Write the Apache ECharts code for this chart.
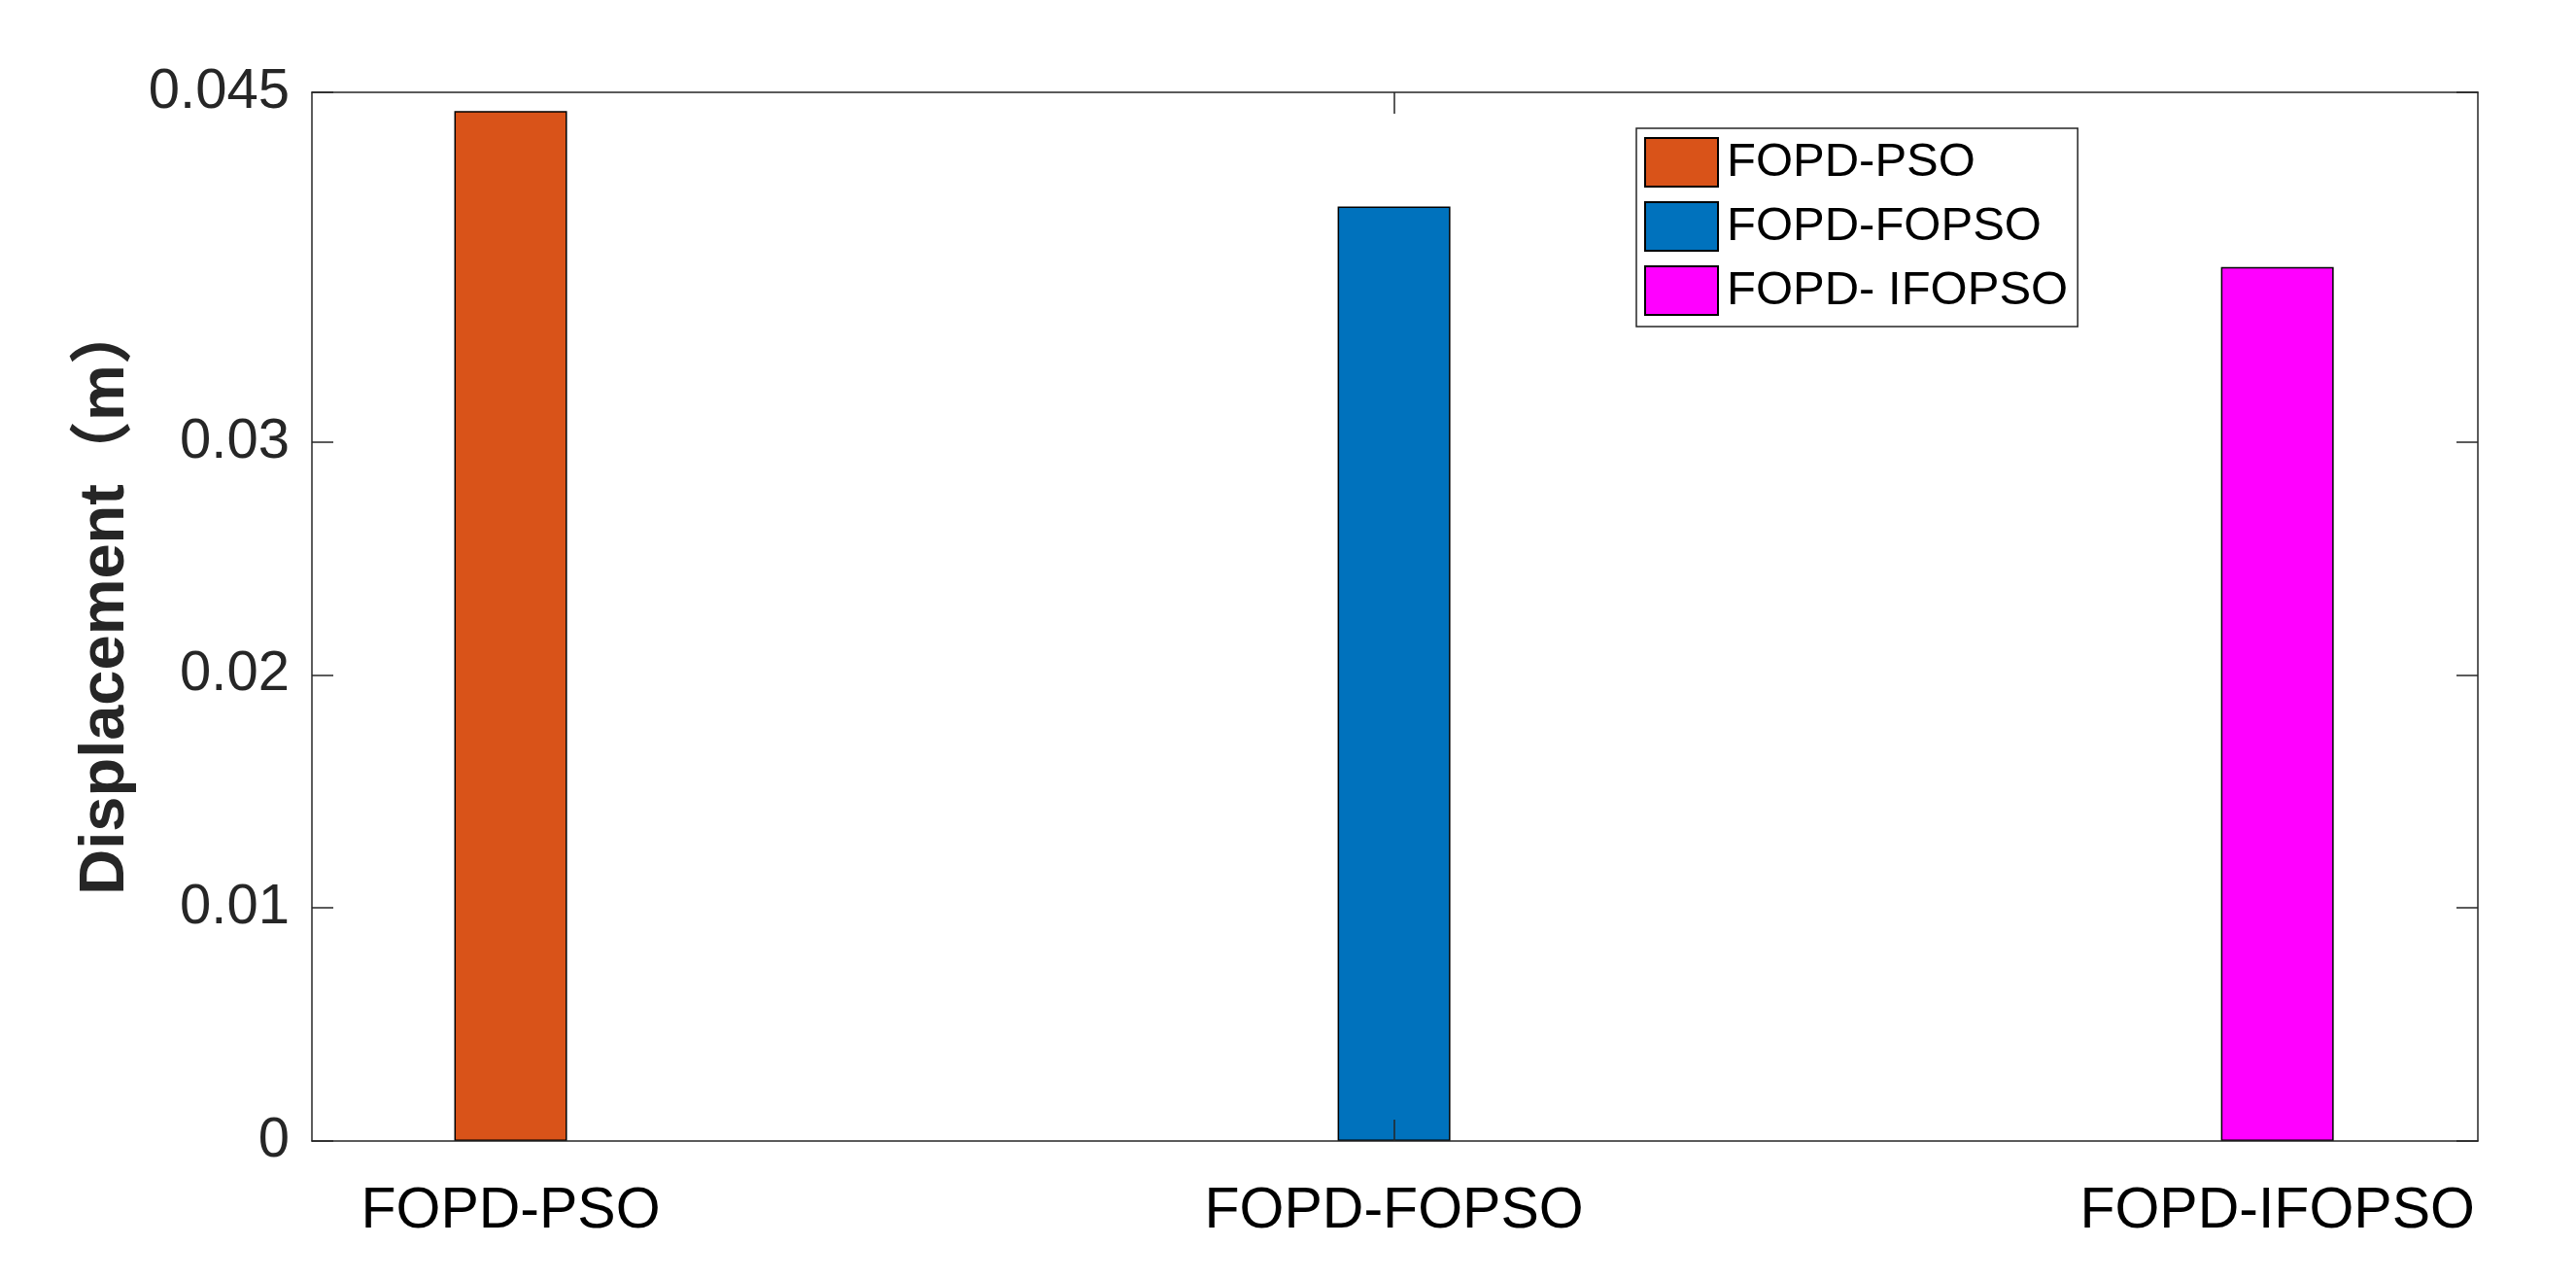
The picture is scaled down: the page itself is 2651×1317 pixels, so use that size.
<!DOCTYPE html>
<html>
<head>
<meta charset="utf-8">
<script src="https://cdn.jsdelivr.net/npm/echarts@6/dist/echarts.min.js"></script>
<style>
html,body{margin:0;padding:0;background:#fff;}
#chart{width:2651px;height:1317px;}
</style>
</head>
<body>
<div id="chart"></div>
<script>
// ---- data ----
var categories = ['FOPD-PSO', 'FOPD-FOPSO', 'FOPD-IFOPSO'];
var seriesNames = ['FOPD-PSO', 'FOPD-FOPSO', 'FOPD- IFOPSO'];
var positions = [1, 2, 3];
var displacement = [0.0442, 0.0401, 0.0375];
var yTickValues = [0, 0.01, 0.02, 0.03, 0.045];
var yTickLabels = ['0', '0.01', '0.02', '0.03', '0.045'];
var colors = ['#D95319', '#0072BD', '#FF00FF'];

var axisColor = '#262626';
var font = '"Liberation Sans", Arial, "Noto Sans CJK SC", sans-serif';

var series = seriesNames.map(function (name, i) {
  return {
    name: name,
    type: 'bar',
    data: [[positions[i], displacement[i]]],
    barWidth: 116,
    barGap: '-100%',
    itemStyle: { color: colors[i], borderColor: '#000', borderWidth: 1.5 },
    z: 2
  };
});

function tick(values) {
  return { show: true, inside: true, length: 22, customValues: values, lineStyle: { color: axisColor, width: 1.5 } };
}
var axisLine = { show: true, onZero: false, lineStyle: { color: axisColor, width: 1.5 } };

var chart = echarts.init(document.getElementById('chart'), null, { renderer: 'canvas' });
chart.setOption({
  backgroundColor: '#fff',
  animation: false,
  grid: { left: 321, right: 101, top: 95, bottom: 143, show: false },
  legend: {
    orient: 'vertical',
    left: 1684,
    top: 132,
    padding: [9, 10, 11, 8],
    icon: 'rect',
    itemWidth: 75,
    itemHeight: 50,
    itemGap: 14,
    backgroundColor: '#fff',
    borderColor: axisColor,
    borderWidth: 1.5,
    borderRadius: 0,
    textStyle: { fontFamily: font, fontSize: 49, color: '#000', padding: [0, 0, 0, 4] },
    data: seriesNames
  },
  xAxis: [{
    type: 'value',
    min: 0.775,
    max: 3.227,
    position: 'bottom',
    z: 10,
    splitLine: { show: false },
    axisLine: axisLine,
    axisTick: tick([2]),
    axisLabel: {
      show: true,
      customValues: positions,
      formatter: function (v) {
        var idx = positions.indexOf(Math.round(v));
        return idx >= 0 ? categories[idx] : '';
      },
      fontFamily: font, fontSize: 59, color: '#000', margin: 43
    }
  }, {
    type: 'value',
    min: 0.775,
    max: 3.227,
    position: 'top',
    z: 10,
    splitLine: { show: false },
    axisLine: axisLine,
    axisTick: tick([2]),
    axisLabel: { show: false }
  }],
  yAxis: [{
    type: 'value',
    min: 0,
    max: 0.045,
    position: 'left',
    z: 10,
    splitLine: { show: false },
    axisLine: axisLine,
    axisTick: tick(yTickValues),
    axisLabel: {
      show: true,
      customValues: yTickValues,
      formatter: function (v) {
        for (var i = 0; i < yTickValues.length; i++) {
          if (Math.abs(yTickValues[i] - v) < 1e-9) return yTickLabels[i];
        }
        return '';
      },
      fontFamily: font, fontSize: 58, color: axisColor, margin: 23
    },
    name: 'Displacement（m）',
    nameLocation: 'middle',
    nameRotate: 90,
    nameGap: 176,
    nameTextStyle: { fontFamily: font, fontSize: 65, fontWeight: 'bold', color: axisColor, padding: [0, 0, 0, 38] }
  }, {
    type: 'value',
    min: 0,
    max: 0.045,
    position: 'right',
    z: 10,
    splitLine: { show: false },
    axisLine: axisLine,
    axisTick: tick(yTickValues),
    axisLabel: { show: false }
  }],
  series: series
});
</script>
</body>
</html>
